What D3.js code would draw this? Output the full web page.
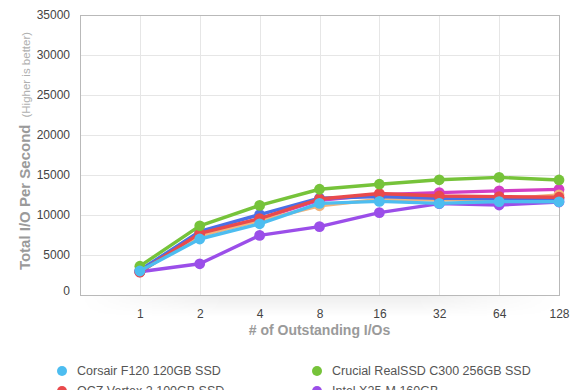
<!DOCTYPE html>
<html>
<head>
<meta charset="utf-8">
<script src="https://cdn.jsdelivr.net/npm/d3@7/dist/d3.min.js"></script>
<style>
  html, body { margin: 0; padding: 0; background: #fff; overflow: hidden; }
  svg { display: block; font-family: "Liberation Sans", Arial, Helvetica, sans-serif; }
</style>
</head>
<body>
<svg id="chart" width="580" height="390"></svg>
<script>
// ---- Data ----
const categories = ["1", "2", "4", "8", "16", "32", "64", "128"];
const yTicks = [0, 5000, 10000, 15000, 20000, 25000, 30000, 35000];

const seriesNames = [
  "Corsair F120 120GB SSD",
  "Crucial RealSSD C300 256GB SSD",
  "OCZ Vertex 2 100GB SSD",
  "Intel X25-M 160GB",
  "OCZ Vertex LE 100GB SSD",
  "Kingston SSDNow V+ 128GB SSD",
  "OCZ Agility 2 120GB SSD"
];
const corsairF120   = [3000, 7000, 8900, 11450, 11700, 11450, 11680, 11650];
const crucialC300   = [3600, 8650, 11200, 13220, 13850, 14400, 14700, 14380];
const oczVertex2    = [2850, 7700, 9550, 12000, 12680, 12380, 12300, 12220];
const intelX25M     = [2900, 3900, 7450, 8550, 10300, 11420, 11250, 11620];
const oczVertexLE   = [3100, 7950, 10050, 12100, 12300, 12100, 12050, 12000];
const kingstonVplus = [2950, 7400, 9300, 11150, 11950, 11880, 11960, 12520];
const oczAgility2   = [2900, 7600, 9500, 11850, 12550, 12800, 13020, 13200];
const seriesValues = [corsairF120, crucialC300, oczVertex2, intelX25M, oczVertexLE, kingstonVplus, oczAgility2];
const seriesColors = ["#4dbdf0", "#76c33a", "#e94a4c", "#9b4ee9", "#4b6fe6", "#f1b47c", "#d23fc4"];

// ---- Layout ----
const W = 580, H = 390;
const svg = d3.select("#chart");
const L = 80, T = 15, R = 559, B = 295;
const plotW = R - L;

const x = d3.scalePoint().domain(categories).range([L + plotW / 8, R]);
const y = d3.scaleLinear().domain([0, 35000]).range([B, T]);

// shadow under the plot
const defs = svg.append("defs");
const sg = defs.append("linearGradient").attr("id", "shadowV").attr("x1", 0).attr("y1", 0).attr("x2", 0).attr("y2", 1);
sg.append("stop").attr("offset", "0%").attr("stop-color", "#000").attr("stop-opacity", 0.07);
sg.append("stop").attr("offset", "100%").attr("stop-color", "#000").attr("stop-opacity", 0);
const mg = defs.append("linearGradient").attr("id", "shadowH").attr("x1", 0).attr("y1", 0).attr("x2", 1).attr("y2", 0);
mg.append("stop").attr("offset", "0%").attr("stop-color", "#fff").attr("stop-opacity", 0);
mg.append("stop").attr("offset", "30%").attr("stop-color", "#fff").attr("stop-opacity", 1);
mg.append("stop").attr("offset", "70%").attr("stop-color", "#fff").attr("stop-opacity", 1);
mg.append("stop").attr("offset", "100%").attr("stop-color", "#fff").attr("stop-opacity", 0);
defs.append("mask").attr("id", "shadowMask")
  .append("rect").attr("x", L).attr("y", B).attr("width", plotW).attr("height", 22).attr("fill", "url(#shadowH)");
svg.append("rect").attr("x", L).attr("y", B).attr("width", plotW).attr("height", 22)
  .attr("fill", "url(#shadowV)").attr("mask", "url(#shadowMask)");

// plot background
svg.append("rect").attr("x", L).attr("y", T).attr("width", plotW).attr("height", B - T).attr("fill", "#fff");

// gridlines
svg.append("g").selectAll("line").data(yTicks).join("line")
  .attr("x1", L).attr("x2", R).attr("y1", d => y(d) + 0.5).attr("y2", d => y(d) + 0.5)
  .attr("stroke", "#e6e6e6").attr("stroke-width", 1);
svg.append("g").selectAll("line").data(categories).join("line")
  .attr("x1", d => Math.round(x(d)) + 0.5).attr("x2", d => Math.round(x(d)) + 0.5)
  .attr("y1", T).attr("y2", B)
  .attr("stroke", "#e6e6e6").attr("stroke-width", 1);

// frame
svg.append("rect").attr("x", L + 0.5).attr("y", T + 0.5).attr("width", plotW).attr("height", B - T)
  .attr("fill", "none").attr("stroke", "#b9b9b9").attr("stroke-width", 1);

// axes
const yAxis = svg.append("g").attr("transform", `translate(${L},0)`)
  .call(d3.axisLeft(y).tickValues(yTicks).tickSize(0).tickPadding(10).tickFormat(d3.format("d")));
yAxis.select(".domain").remove();
yAxis.selectAll("text").attr("fill", "#444").attr("font-size", 12)
  .attr("font-family", "Liberation Sans, Arial, sans-serif")
  .attr("dy", d => d === 0 ? "-0.08em" : "0.32em");

const xAxis = svg.append("g").attr("transform", `translate(0,${B})`)
  .call(d3.axisBottom(x).tickSize(0).tickPadding(14));
xAxis.select(".domain").remove();
xAxis.selectAll("text").attr("fill", "#444").attr("font-size", 12)
  .attr("font-family", "Liberation Sans, Arial, sans-serif");

// axis titles
svg.append("text")
  .attr("x", (L + R) / 2).attr("y", 335)
  .attr("text-anchor", "middle").attr("fill", "#9a9a9a")
  .attr("font-size", 14).attr("font-weight", "bold")
  .text("# of Outstanding I/Os");

const yt = svg.append("text")
  .attr("transform", `translate(30,151) rotate(-90)`)
  .attr("text-anchor", "middle").attr("fill", "#9a9a9a");
yt.append("tspan").attr("font-size", 15).attr("font-weight", "bold").text("Total I/O Per Second");
yt.append("tspan").attr("font-size", 11.5).attr("fill", "#b0b0b0").attr("dx", 7).text("(Higher is better)");

// series
const data = seriesNames.map((name, i) => ({
  name, color: seriesColors[i],
  values: categories.map((c, j) => ({ c, v: seriesValues[i][j] }))
}));
const line = d3.line().x(d => x(d.c)).y(d => y(d.v));
const drawOrder = data.slice().reverse();
const sgr = svg.append("g").selectAll("g").data(drawOrder).join("g");
sgr.append("path").attr("d", d => line(d.values))
  .attr("fill", "none").attr("stroke", d => d.color).attr("stroke-width", 3.4)
  .attr("stroke-linejoin", "round");
sgr.selectAll("circle").data(d => d.values.map(v => ({ ...v, color: d.color }))).join("circle")
  .attr("cx", d => x(d.c)).attr("cy", d => y(d.v)).attr("r", 5.4).attr("fill", d => d.color);

// legend (two columns; rows beyond the visible window are not drawn)
const legItems = data.map((d, i) => ({ ...d, lx: i % 2 === 0 ? 62 : 317, ly: 371 + Math.floor(i / 2) * 20 }))
  .filter(d => d.ly - 8 < H);
const leg = svg.append("g").selectAll("g").data(legItems).join("g")
  .attr("transform", d => `translate(${d.lx},${d.ly})`);
leg.append("circle").attr("r", 5).attr("fill", d => d.color);
leg.append("text").attr("x", 15).attr("dy", "0.35em")
  .attr("fill", "#555").attr("font-size", 12.5)
  .text(d => d.name);
</script>
</body>
</html>
